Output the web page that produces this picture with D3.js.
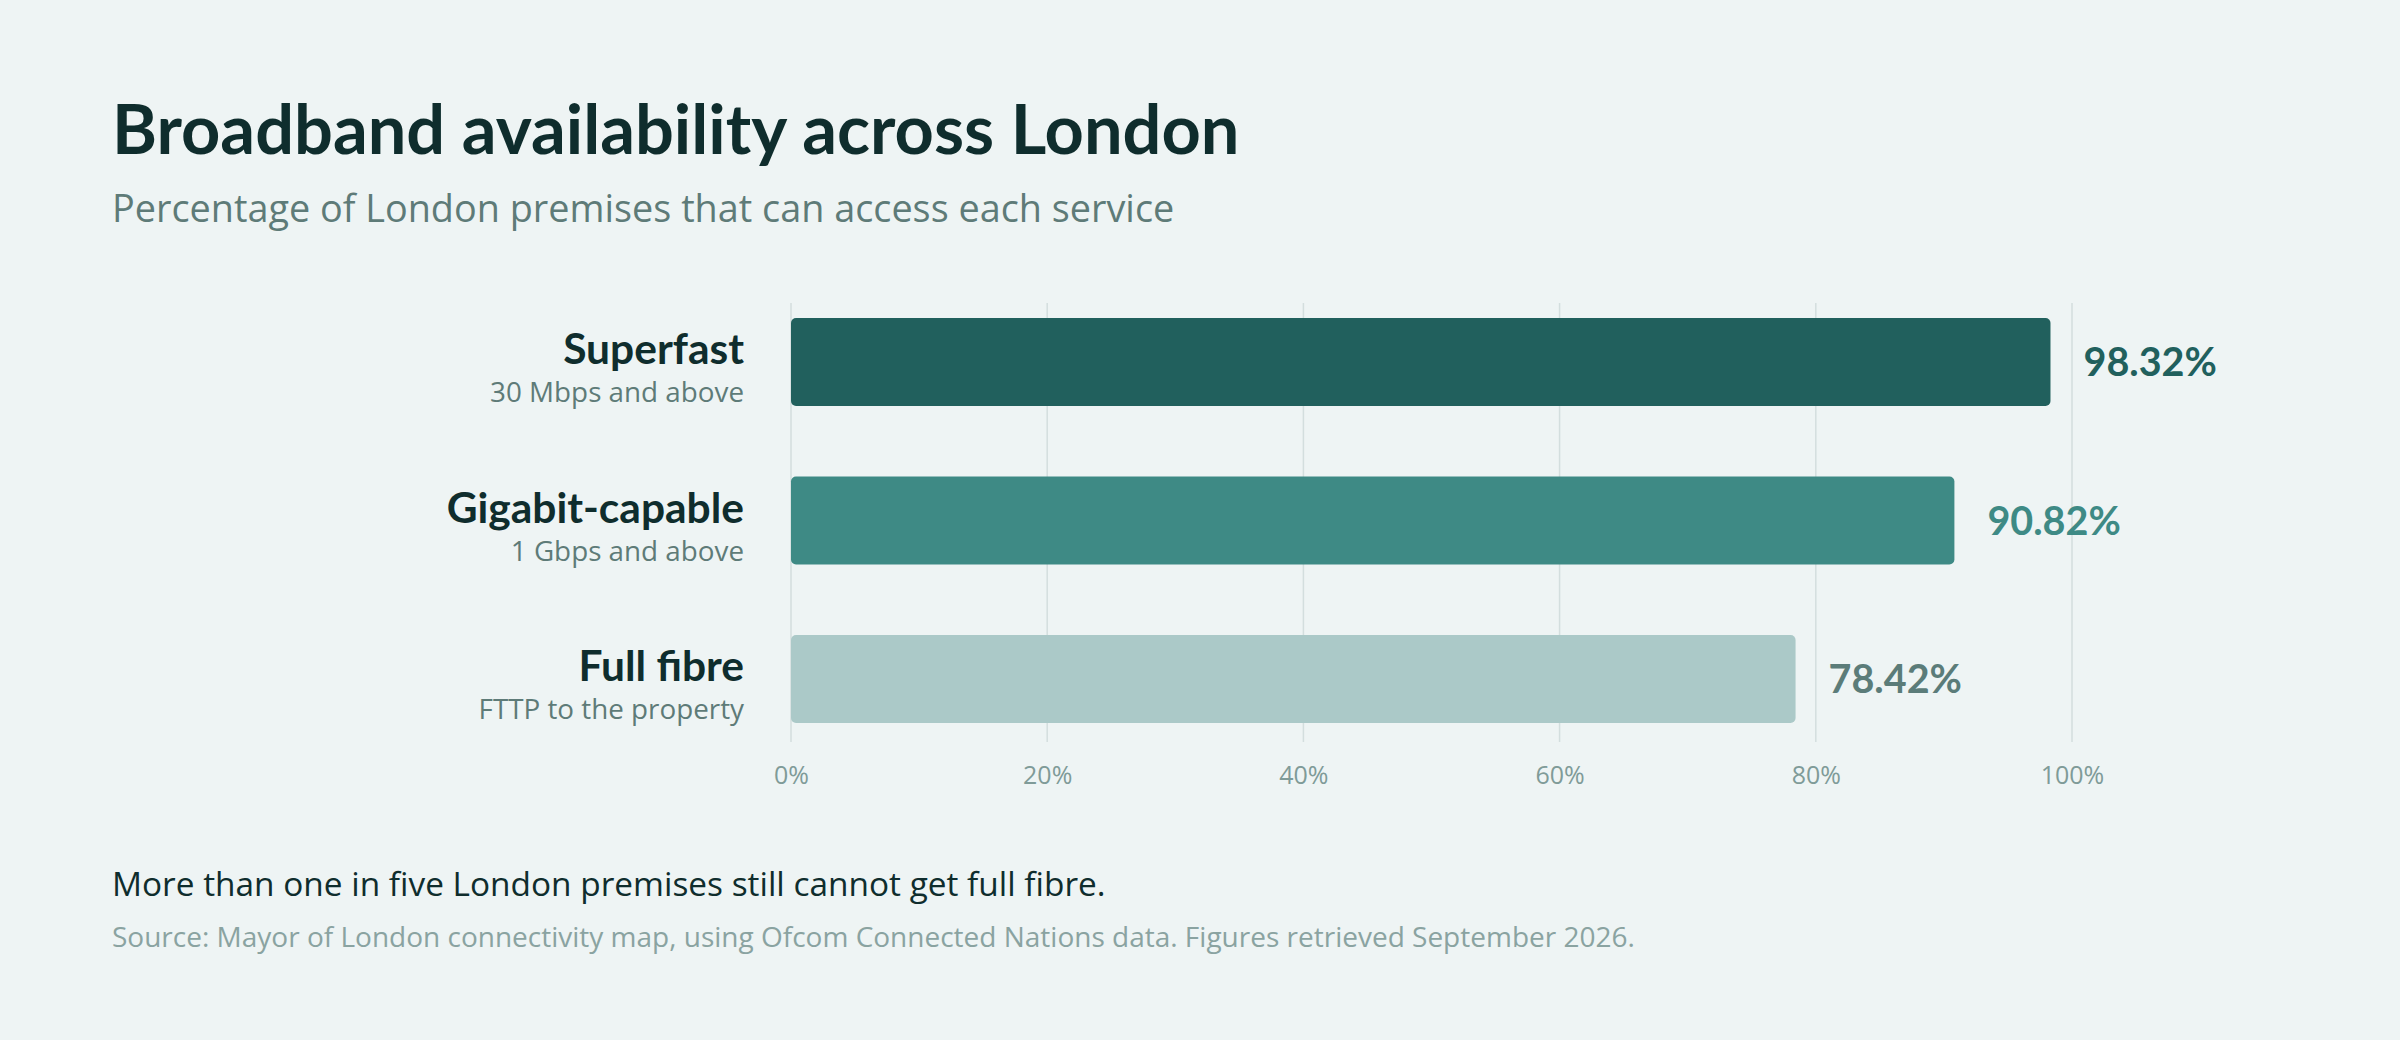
<!DOCTYPE html>
<html><head><meta charset="utf-8">
<script src="https://cdn.jsdelivr.net/npm/d3@7"></script>
<style>html,body{margin:0;padding:0;background:#eef4f4;}svg{display:block;}</style>
</head><body>
<script>
const categories = ["Superfast", "Gigabit-capable", "Full fibre"];
const subtitles = ["30 Mbps and above", "1 Gbps and above", "FTTP to the property"];
const values = [98.32, 90.82, 78.42];
const barColors = ["#21605d", "#3e8a85", "#abc9c8"];
const labelColors = ["#21605d", "#3e8a85", "#5b7c79"];
const ticks = [0, 20, 40, 60, 80, 100];

const W = 2400, H = 1040;
const BOLD = "Lato, 'Open Sans', sans-serif";
const REG = "'Open Sans', Lato, sans-serif";
const svg = d3.select("body").append("svg").attr("width", W).attr("height", H);
svg.append("rect").attr("width", W).attr("height", H).attr("fill", "#eef4f4");

svg.append("text").attr("x", 112).attr("y", 154).attr("font-family", BOLD)
  .attr("font-weight", 700).attr("font-size", 68.5).attr("fill", "#0f2d2d")
  .text("Broadband availability across London");
svg.append("text").attr("x", 112).attr("y", 222).attr("font-family", REG)
  .attr("font-size", 37.8).attr("fill", "#5e7b78")
  .text("Percentage of London premises that can access each service");

const x = d3.scaleLinear().domain([0, 100]).range([791, 2072]);
const y = d3.scaleBand().domain(categories).range([303, 738]).paddingInner(0.445).paddingOuter(0.095);

const g = svg.append("g");
g.selectAll("line.grid").data(ticks).join("line").attr("class", "grid")
  .attr("x1", d => x(d)).attr("x2", d => x(d)).attr("y1", 303).attr("y2", 742)
  .attr("stroke", "#d3dede").attr("stroke-width", 1.5);

const axis = d3.axisBottom(x).tickValues(ticks).tickFormat(d => d + "%").tickSize(0).tickPadding(0);
const ax = svg.append("g").attr("transform", "translate(0,784)").call(axis);
ax.select(".domain").remove();
ax.selectAll("text").attr("font-family", REG).attr("font-size", 25).attr("fill", "#7f9b98").attr("dy", 0);

g.selectAll("rect.bar").data(values).join("rect").attr("class", "bar")
  .attr("x", x(0)).attr("y", (d, i) => y(categories[i]))
  .attr("width", d => x(d) - x(0)).attr("height", y.bandwidth())
  .attr("rx", 5).attr("fill", (d, i) => barColors[i]);

g.selectAll("text.val").data(values).join("text").attr("class", "val")
  .attr("x", d => x(d) + 33).attr("y", (d, i) => y(categories[i]) + y.bandwidth() / 2 + 14)
  .attr("font-family", BOLD).attr("font-weight", 700).attr("font-size", 39.5)
  .attr("fill", (d, i) => labelColors[i]).text(d => d.toFixed(2) + "%");

g.selectAll("text.cat").data(categories).join("text").attr("class", "cat")
  .attr("x", 744).attr("y", d => y(d) + 46).attr("text-anchor", "end")
  .attr("font-family", BOLD).attr("font-weight", 700).attr("font-size", 42.5).attr("fill", "#0f2d2d")
  .text(d => d);
g.selectAll("text.sub").data(subtitles).join("text").attr("class", "sub")
  .attr("x", 744).attr("y", (d, i) => y(categories[i]) + 84).attr("text-anchor", "end")
  .attr("font-family", REG).attr("font-size", 27.8).attr("fill", "#5e7b78")
  .text(d => d);

svg.append("text").attr("x", 112).attr("y", 896).attr("font-family", REG)
  .attr("font-size", 33.4).attr("fill", "#0f2d2d")
  .text("More than one in five London premises still cannot get full fibre.");
svg.append("text").attr("x", 112).attr("y", 947).attr("font-family", REG)
  .attr("font-size", 28).attr("fill", "#8aa3a1")
  .text("Source: Mayor of London connectivity map, using Ofcom Connected Nations data. Figures retrieved September 2026.");
</script>
</body></html>
